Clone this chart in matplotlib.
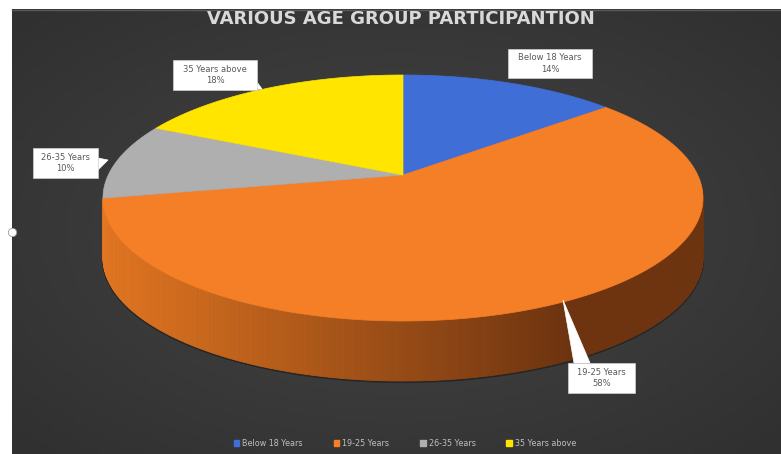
import numpy as np
import matplotlib
matplotlib.use("Agg")
import matplotlib.pyplot as plt
from matplotlib.patches import Polygon, Rectangle, Patch
from matplotlib.colors import to_rgb

# participation share by age group (percent)
groups = ["Below 18 Years", "19-25 Years", "26-35 Years", "35 Years above"]
shares = [14, 58, 10, 18]
top_colors = ["#3f6fd6", "#f57f26", "#afafaf", "#ffe500"]
side_dark = ["#1f3a78", "#6e3410", "#5a5a5a", "#8a7a00"]
side_light = ["#3660c0", "#e27621", "#9a9a9a", "#e0c800"]

W, H = 781, 454
fig = plt.figure(figsize=(W / 100, H / 100), dpi=100)
fig.patch.set_facecolor("white")
ax = fig.add_axes([0, 0, 1, 1])
ax.set_xlim(0, W)
ax.set_ylim(H, 0)
ax.axis("off")

# dark chart area with a soft radial gradient
x0, y0 = 12, 9
gx, gy = np.meshgrid(np.linspace(-1, 1, 200), np.linspace(-1, 1, 120))
r = np.clip(np.sqrt(gx ** 2 + gy ** 2) / 1.4, 0, 1)
c_in, c_out = np.array(to_rgb("#454545")), np.array(to_rgb("#303030"))
img = c_in[None, None, :] * (1 - r[..., None]) + c_out[None, None, :] * r[..., None]
ax.imshow(img, extent=(x0, W, H, y0), aspect="auto", zorder=0)
ax.plot([x0, W], [y0 + 0.5, y0 + 0.5], color="#5a5a5a", lw=1, zorder=1)

# pie geometry: tilted disc seen in perspective
cx, cy, rx, ry = 403, 198, 300, 123
apex_off = 23           # apex sits this far above the ellipse centre
depth = 60
# projective map: rim spans ±ry vertically, disc centre lands on the apex
k = apex_off / ry
a = rx * np.sqrt(1 - k ** 2)


def project(theta):
    u, v = np.sin(theta), np.cos(theta)
    d = 1 + k * v
    return cx + a * u / d, cy - (ry * v + apex_off) / d


apex = (cx, cy - apex_off)
fracs = np.array(shares) / sum(shares)
bounds = np.concatenate([[0], np.cumsum(fracs)]) * 2 * np.pi

# side walls, drawn in thin strips so the shading runs left to right
for i in range(len(shares)):
    th = np.linspace(bounds[i], bounds[i + 1], 240)
    px, py = project(th)
    for j in range(len(th) - 1):
        if np.cos((th[j] + th[j + 1]) / 2) > -k:
            continue
        t = np.clip((px[j] - (cx - rx)) / (1.55 * rx), 0, 1)
        col = np.array(to_rgb(side_light[i])) * (1 - t) + np.array(to_rgb(side_dark[i])) * t
        quad = [(px[j], py[j]), (px[j + 1], py[j + 1]),
                (px[j + 1], py[j + 1] + depth), (px[j], py[j] + depth)]
        ax.add_patch(Polygon(quad, closed=True, facecolor=col, edgecolor=col,
                             lw=0.6, zorder=2))

# thin shadow along the lower rim
th = np.linspace(np.pi / 2 - 0.2, 3 * np.pi / 2 - 0.2, 300)
px, py = project(th)
ax.plot(px, py + depth + 1, color="#1e1e1e", lw=1.5, alpha=0.7, zorder=1.5)

# top faces
for i in range(len(shares)):
    th = np.linspace(bounds[i], bounds[i + 1], 200)
    px, py = project(th)
    pts = [apex] + list(zip(px, py))
    ax.add_patch(Polygon(pts, closed=True, facecolor=top_colors[i],
                         edgecolor=top_colors[i], lw=0.5, zorder=3))

# data callouts: box corner, box size, pointer base, pointer tip
callouts = [
    ((508, 49), (84, 29), None, None),
    ((568, 363), (67, 30), [(574, 363), (590, 363)], (563, 300)),
    ((33, 148), (65, 30), [(98, 158), (98, 170)], (108, 160)),
    ((173, 60), (84, 30), [(243, 90), (257, 82)], (262, 89)),
]
for i, ((bx, by), (bw, bh), base, tip) in enumerate(callouts):
    if tip is not None:
        ax.add_patch(Polygon([base[0], tip, base[1]], closed=True,
                             facecolor="white", edgecolor="white", lw=0.5, zorder=4))
    ax.add_patch(Rectangle((bx, by), bw, bh, facecolor="white",
                           edgecolor="#d0d0d0", lw=0.5, zorder=5))
    ax.text(bx + bw / 2, by + bh / 2, f"{groups[i]}\n{shares[i]}%",
            ha="center", va="center", fontsize=6, color="#595959",
            linespacing=1.3, zorder=6)

ax.text(401, 19, "VARIOUS AGE GROUP PARTICIPANTION", ha="center", va="center",
        fontsize=13, fontweight="bold", color="#d9d9d9", zorder=6)

handles = [Patch(facecolor=c, edgecolor=c) for c in top_colors]
leg = ax.legend(handles, groups, loc="center", bbox_to_anchor=(405 / W, 1 - 443 / H),
                ncol=4, frameon=False, fontsize=5.8, labelcolor="#bfbfbf",
                handlelength=0.7, handleheight=0.7, handletextpad=0.4,
                columnspacing=3.8)

# selection handle on the chart border
ax.plot([x0], [232], marker="o", ms=6, mfc="white", mec="#9a9a9a", mew=0.6,
        zorder=7, clip_on=False)

fig.savefig("out.png", dpi=100, facecolor=fig.get_facecolor())
